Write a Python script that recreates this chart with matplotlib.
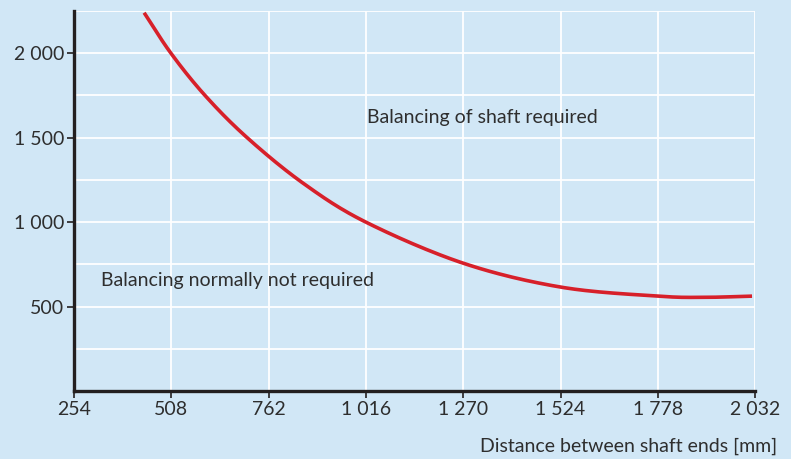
import matplotlib
matplotlib.use("Agg")
import matplotlib.pyplot as plt
from matplotlib.ticker import FixedLocator
import numpy as np

# Data
distance_mm = [437, 507, 596, 706, 853, 1016, 1270, 1526, 1779, 1900, 2024]
speed_limit = [2240, 2000, 1750, 1500, 1229, 1000, 757, 615, 562, 555, 562]

x_ticks = [254, 508, 762, 1016, 1270, 1524, 1778, 2032]
x_tick_labels = ["254", "508", "762", "1 016", "1 270", "1 524", "1 778", "2 032"]
y_ticks = [500, 1000, 1500, 2000]
y_tick_labels = ["500", "1 000", "1 500", "2 000"]
y_grid = [250, 750, 1250, 1750, 2250]

x_label = "Distance between shaft ends [mm]"
label_above = "Balancing of shaft required"
label_below = "Balancing normally not required"

plt.rcParams['font.family'] = ['Lato', 'DejaVu Sans']
bg = "#d1e7f6"
txt = "#2e2e2e"
fs = 14

fig = plt.figure(figsize=(7.91, 4.59), dpi=100, facecolor=bg)
ax = fig.add_axes([0.0936, 0.148, 0.861, 0.828], facecolor=bg)

xs = np.array(distance_mm, dtype=float)
ys = np.array(speed_limit, dtype=float)

def catmull(xp, yp, n=30):
    px = np.concatenate([[2*xp[0]-xp[1]], xp, [2*xp[-1]-xp[-2]]])
    py = np.concatenate([[2*yp[0]-yp[1]], yp, [2*yp[-1]-yp[-2]]])
    ox, oy = [], []
    for i in range(1, len(px)-2):
        t = np.linspace(0, 1, n, endpoint=False)
        for arr, out in ((px, ox), (py, oy)):
            p0, p1, p2, p3 = arr[i-1], arr[i], arr[i+1], arr[i+2]
            out.extend(0.5*((2*p1) + (-p0+p2)*t + (2*p0-5*p1+4*p2-p3)*t**2 + (-p0+3*p1-3*p2+p3)*t**3))
    ox.append(xp[-1]); oy.append(yp[-1])
    return np.array(ox), np.array(oy)

cx, cy = catmull(xs, ys)
ax.plot(cx, cy, color="#d7202a", lw=2.6, solid_capstyle="butt", zorder=3)

ax.set_xlim(254, 2032)
ax.set_ylim(0, 2250)

ax.xaxis.set_major_locator(FixedLocator(x_ticks))
ax.set_xticklabels(x_tick_labels)
ax.yaxis.set_major_locator(FixedLocator(y_ticks))
ax.set_yticklabels(y_tick_labels)
ax.yaxis.set_minor_locator(FixedLocator(y_grid))

ax.grid(True, which="both", color="white", lw=1.3, zorder=0)
ax.set_axisbelow(True)

for s in ["top", "right"]:
    ax.spines[s].set_visible(False)
for s in ["left", "bottom"]:
    ax.spines[s].set_linewidth(2.4)
    ax.spines[s].set_color("#231f20")

ax.tick_params(axis="both", which="major", length=5, width=1.2, color="#231f20",
               labelsize=fs, labelcolor=txt, pad=2)
ax.tick_params(axis="y", which="minor", length=0)

ax.text(1019, 1621, label_above, fontsize=fs, color=txt, va="center", ha="left")
ax.text(324, 657, label_below, fontsize=fs, color=txt, va="center", ha="left")

fig.text(0.983, 0.027, x_label, fontsize=fs, color=txt, ha="right", va="center")

fig.savefig("out.png", dpi=100, facecolor=bg)
